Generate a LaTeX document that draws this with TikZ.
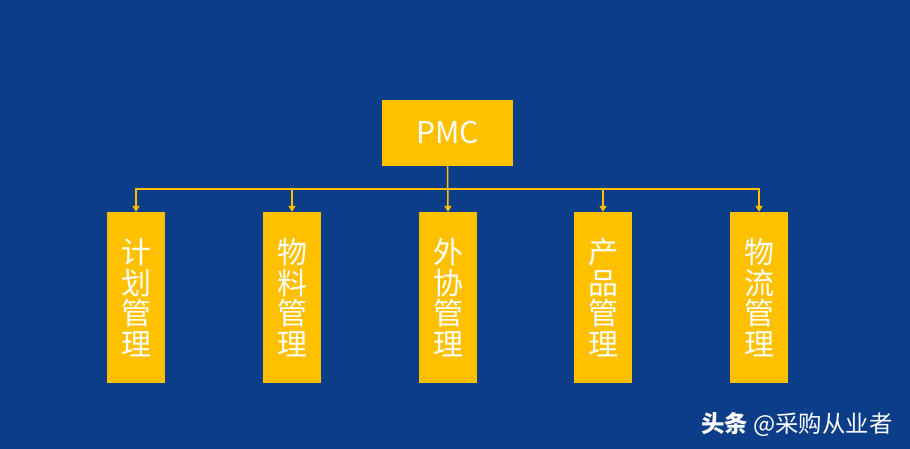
\documentclass[tikz,border=0pt]{standalone}
\usepackage{fontspec}
\newfontfamily\cjk{Noto Sans CJK SC}
\usetikzlibrary{arrows.meta}
\definecolor{bgblue}{HTML}{0C3D89}
\definecolor{boxyellow}{HTML}{FFC000}

\begin{document}
\begin{tikzpicture}[
			x=1pt, y=-1pt,
			top/.style={fill=boxyellow, text=white, inner sep=0, minimum width=131pt, minimum height=66pt, font=\cjk\fontsize{30}{30}\selectfont},
			dept/.style={fill=boxyellow, text=white, inner sep=0, align=center, minimum width=58pt, minimum height=171pt, font=\cjk\fontsize{30}{30.5}\selectfont},
			link/.style={draw=boxyellow, line width=1.5pt},
			-{Triangle[width=7pt, length=6pt]},
			]
			
			% Hintergrund
			\fill[bgblue] (0,0) rectangle (910,449);
			
			% Kästen
			\node[top] (PMC) at (447.5,133) {PMC};
			\node[dept] (Jihua) at (136,297.5) {计\\划\\管\\理};
			\node[dept] (Wuliao) at (292,297.5) {物\\料\\管\\理};
			\node[dept] (Waixie) at (448,297.5) {外\\协\\管\\理};
			\node[dept] (Chanpin) at (603,297.5) {产\\品\\管\\理};
			\node[dept] (Wuliu) at (759,297.5) {物\\流\\管\\理};
			\coordinate (bus) at (447.5,189);
			
			% Verbindungen
			\draw[link] (PMC.south) -- (Waixie.north);
			\draw[link] (bus) -| (Jihua.north);
			\draw[link] (bus) -| (Wuliao.north);
			\draw[link] (bus) -| (Chanpin.north);
			\draw[link] (bus) -| (Wuliu.north);
			
			\node[text=white, font=\cjk\fontsize{23.4}{23.4}\selectfont, anchor=east] (mark) at (896,424) {\textbf{头条} @采购从业者};
			
		\end{tikzpicture}
\end{document}
